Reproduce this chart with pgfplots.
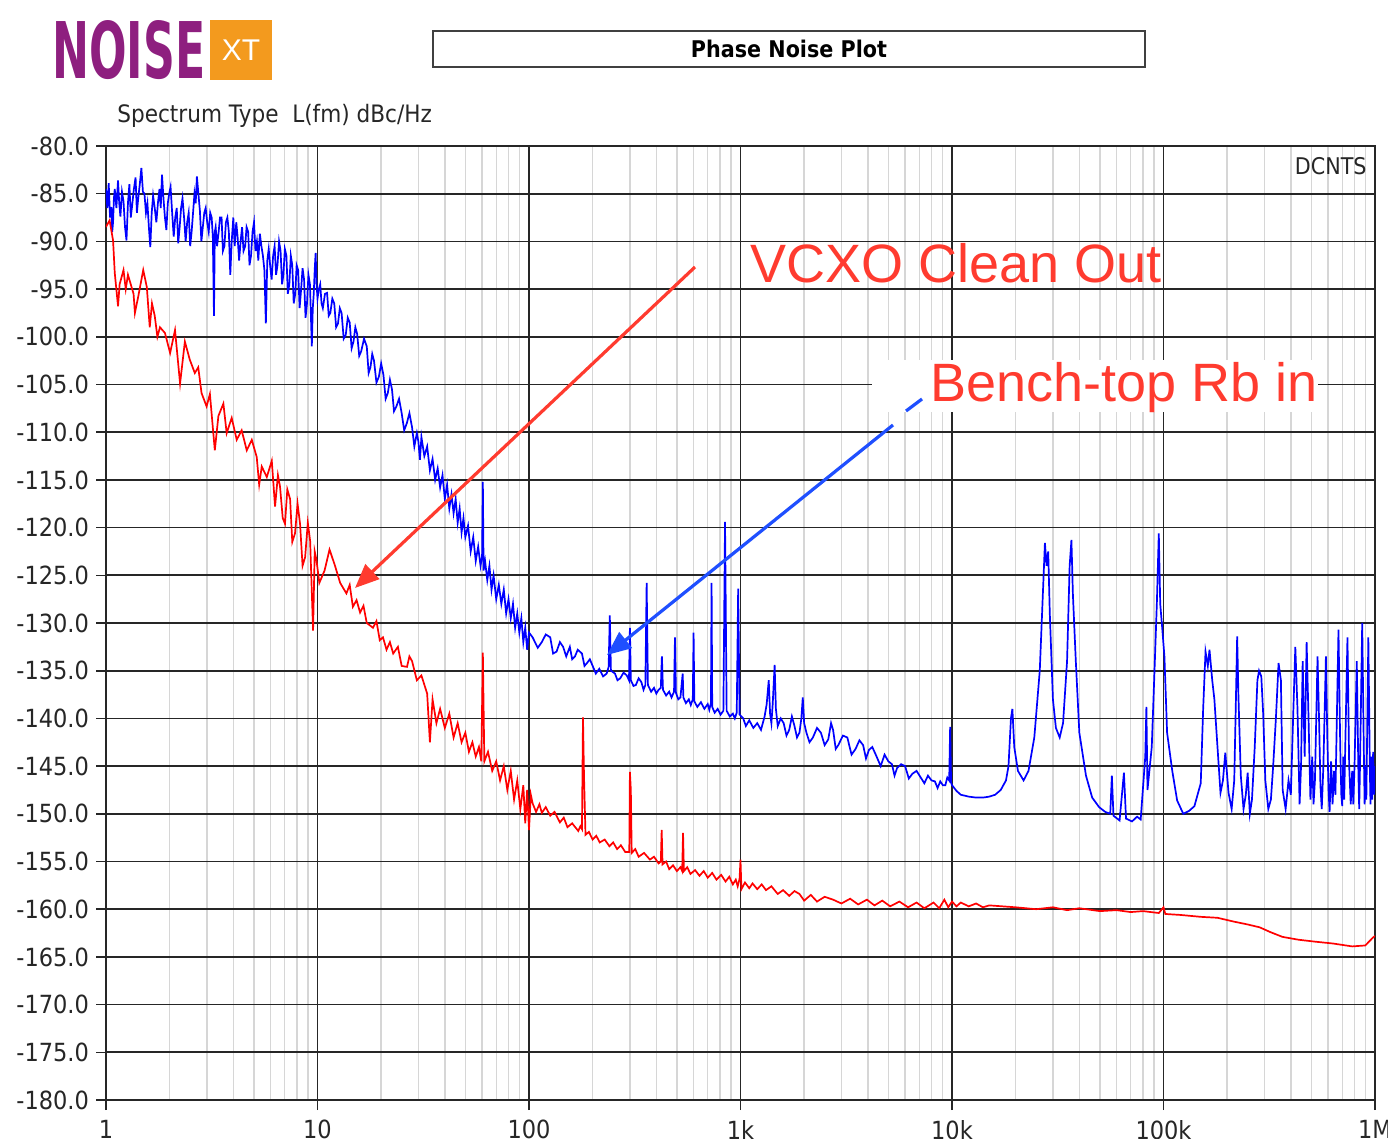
\documentclass[border=0pt]{standalone}
\usepackage{pgfplots}
\pgfplotsset{compat=1.18}
\usetikzlibrary{arrows.meta}
\usepackage{fontspec}
\newfontfamily\dvc{DejaVu Sans}[FakeStretch=0.9]
\newfontfamily\arial{Liberation Sans}
\definecolor{logopurple}{HTML}{8E1F7F}
\definecolor{logoorange}{HTML}{F39A1E}
\definecolor{annred}{HTML}{FF3B2F}
\definecolor{annblue}{HTML}{1F4FFF}
\definecolor{minorgray}{HTML}{D6D6D6}
\begin{document}
\begin{tikzpicture}
\useasboundingbox (0,0) rectangle (694pt,-569.5pt);
\begin{axis}[
  at={(53pt,-550pt)}, anchor=south west,
  scale only axis, width=634.5pt, height=477pt,
  xmode=log, log basis x=10,
  xmin=1, xmax=1000000, ymin=-180, ymax=-80,
  xtick={1,10,100,1000,10000,100000,1000000},
  xticklabels={1,10,100,1k,10k,100k,1M},
  minor xtick={2,3,4,5,6,7,8,9,20,30,40,50,60,70,80,90,200,300,400,500,600,700,800,900,2000,3000,4000,5000,6000,7000,8000,9000,20000,30000,40000,50000,60000,70000,80000,90000,200000,300000,400000,500000,600000,700000,800000,900000},
  ytick={-180,-175,-170,-165,-160,-155,-150,-145,-140,-135,-130,-125,-120,-115,-110,-105,-100,-95,-90,-85,-80},
  yticklabels={-180.0,-175.0,-170.0,-165.0,-160.0,-155.0,-150.0,-145.0,-140.0,-135.0,-130.0,-125.0,-120.0,-115.0,-110.0,-105.0,-100.0,-95.0,-90.0,-85.0,-80.0},
  xmajorgrids, xminorgrids, ymajorgrids,
  major grid style={black!85, line width=0.85pt},
  minor grid style={minorgray, line width=0.7pt},
  axis line style={black!85, line width=0.85pt},
  tick align=outside, xtick pos=left, ytick pos=left,
  major tick length=5pt, minor tick length=0pt,
  tick style={black!85, line width=0.8pt},
  ticklabel style={font=\dvc\fontsize{12.5}{14}\selectfont, text=black!85},
  xticklabel style={yshift=-1.5pt},
]
\addplot[blue, line width=0.85pt] coordinates {
(1,-84.5)(1.015,-86.5)(1.03,-83.9)(1.045,-87.5)(1.06,-86.4)(1.07,-89.0)(1.08,-88.0)(1.09,-85.5)(1.10,-84.5)(1.12,-86.5)(1.14,-83.6)(1.155,-86.0)(1.17,-87.4)(1.19,-84.8)(1.21,-85.8)(1.23,-88.5)(1.25,-89.9)(1.27,-86.0)(1.29,-84.0)(1.31,-87.5)(1.33,-86.2)(1.355,-84.5)(1.38,-83.3)(1.40,-87.0)(1.42,-85.5)(1.445,-84.0)(1.47,-82.3)(1.495,-84.8)(1.52,-85.0)(1.545,-87.0)(1.57,-86.0)(1.595,-88.5)(1.62,-90.6)(1.645,-87.0)(1.67,-85.2)(1.70,-86.5)(1.73,-88.0)(1.76,-86.0)(1.79,-84.5)(1.815,-86.5)(1.84,-83.0)(1.87,-85.5)(1.90,-87.5)(1.93,-88.8)(1.96,-86.0)(1.99,-85.0)(2.02,-84.3)(2.055,-87.0)(2.09,-89.5)(2.125,-87.5)(2.16,-86.5)(2.195,-90.2)(2.23,-88.5)(2.265,-86.5)(2.30,-85.5)(2.34,-87.5)(2.38,-90.0)(2.42,-88.0)(2.46,-87.0)(2.50,-90.5)(2.54,-89.0)(2.58,-87.0)(2.62,-85.0)(2.655,-86.0)(2.69,-83.2)(2.735,-85.0)(2.78,-86.8)(2.825,-90.0)(2.87,-88.5)(2.915,-87.0)(2.96,-86.5)(3.01,-88.0)(3.06,-89.0)(3.11,-87.0)(3.16,-87.5)(3.20,-89.5)(3.24,-97.8)(3.27,-89.0)(3.30,-88.5)
(3.35,-90.5)(3.41,-89.0)(3.46,-87.5)(3.52,-87.5)(3.57,-91.0)(3.63,-90.5)(3.69,-88.0)(3.75,-87.5)(3.81,-89.0)(3.87,-93.5)(3.93,-90.0)(4.00,-87.5)(4.06,-90.5)(4.13,-88.0)(4.19,-89.5)(4.26,-92.0)(4.33,-90.0)(4.40,-88.5)(4.47,-91.0)(4.55,-90.5)(4.62,-88.5)(4.70,-89.0)(4.77,-92.5)(4.85,-91.5)(4.93,-89.0)(5.01,-88.0)(5.09,-91.0)(5.17,-90.0)(5.25,-92.0)(5.34,-89.2)(5.43,-90.5)(5.52,-91.5)(5.61,-93.0)(5.70,-98.6)(5.79,-92.0)(5.88,-90.8)(5.97,-92.5)(6.07,-94.0)(6.17,-91.5)(6.27,-90.5)(6.37,-93.5)(6.47,-92.5)(6.58,-90.0)(6.69,-91.0)(6.80,-94.5)(6.90,-93.5)(7.01,-90.8)(7.13,-91.5)(7.24,-95.5)(7.36,-94.5)(7.48,-91.5)(7.60,-92.5)(7.72,-96.5)(7.85,-95.5)(7.97,-92.5)(8.10,-93.0)(8.23,-97.0)(8.37,-95.0)(8.50,-92.8)(8.64,-94.0)(8.78,-98.0)(8.92,-96.5)(9.06,-93.5)(9.21,-94.5)(9.30,-97.5)(9.40,-101.0)(9.50,-97.0)(9.60,-95.5)(9.70,-93.0)(9.80,-91.2)(9.90,-94.5)(10.0,-96.0)
(10.15,-95.0)(10.3,-94.5)(10.45,-96.5)(10.6,-97.0)(10.85,-95.5)(11.1,-95.4)(11.3,-97.8)(11.5,-97.5)(11.75,-96.0)(12.0,-96.5)(12.25,-99.0)(12.5,-98.6)(12.75,-97.0)(13.0,-97.5)(13.3,-100.2)(13.6,-99.8)(13.9,-98.0)(14.2,-98.5)(14.5,-101.2)(14.8,-100.5)(15.1,-99.0)(15.4,-99.7)(15.75,-102.0)(16.1,-101.5)(16.6,-100.2)(17.1,-101.0)(17.45,-103.8)(17.8,-103.2)(18.15,-101.8)(18.5,-102.5)(19.0,-104.8)(19.5,-104.2)(20.0,-102.8)(20.5,-104.0)(21.0,-106.5)(21.5,-105.9)(22.0,-104.5)(22.5,-105.5)(23.0,-107.8)(23.6,-107.3)(24.3,-106.5)(25.0,-108.0)(25.7,-109.8)(26.5,-109.0)(27.2,-108.0)(28.0,-109.5)(28.7,-111.5)(29.5,-110.1)
(30.0,-111.0)(30.5,-112.9)(31.0,-110.5)(32.0,-112.5)(33.0,-111.5)(34.0,-114.0)(35.0,-112.8)(36.0,-115.0)(37.0,-113.8)(38.0,-115.8)(39.0,-114.5)(40.0,-117.0)(41.0,-115.5)(42.0,-118.0)(43.0,-116.5)(44.0,-118.5)(45.0,-117.0)(46.0,-119.5)(47.0,-118.0)(48.0,-120.5)(49.0,-119.0)(50.0,-121.0)(51.5,-119.8)(53.0,-122.5)(54.5,-121.0)(56.0,-123.5)(57.5,-122.0)(59.0,-124.0)(60.0,-123.0)(60.5,-115.2)(61.0,-124.5)(62.0,-123.5)(63.5,-125.5)(65.0,-124.0)(66.5,-126.5)(68.0,-125.0)(70.0,-127.5)(72.0,-126.0)(74.0,-128.0)(76.0,-126.5)(78.0,-129.0)(80.0,-127.5)(82.0,-129.5)(84.0,-128.0)(86.0,-130.5)(88.0,-129.0)(90.0,-131.0)(92.0,-129.5)(94.0,-132.0)(96.0,-130.5)(98.0,-132.8)(100,-131.0)
(104,-131.5)(110,-132.6)(115,-132.0)(120,-131.2)(126,-131.5)(130,-133.2)(135,-133.0)(140,-132.0)(145,-132.5)(150,-133.5)(156,-132.5)(160,-133.8)(165,-133.5)(170,-132.8)(178,-133.2)(183,-134.5)(188,-134.2)(194,-133.8)(200,-134.5)(207,-135.3)(215,-134.8)(224,-135.6)(233,-135.3)(238,-134.6)(241,-129.2)(244,-135.0)(255,-135.3)(262,-136.0)(270,-135.8)(280,-135.2)(290,-135.5)(297,-136.0)(300,-130.5)(303,-136.0)(312,-136.6)(320,-136.5)(330,-135.8)(340,-136.2)(348,-137.0)(355,-136.5)(360,-125.8)(365,-136.5)(378,-137.2)(390,-136.8)(400,-137.4)(410,-137.0)(420,-136.8)(425,-133.5)(430,-137.0)(445,-137.6)(460,-137.2)(472,-137.8)(485,-137.2)(490,-131.5)(495,-137.3)(508,-138.0)(520,-137.8)(533,-135.3)(537,-137.8)(552,-138.4)(570,-138.0)(582,-138.6)(595,-138.0)(600,-131.0)(605,-138.2)(625,-138.8)(650,-138.3)(675,-139.0)(700,-138.5)(712,-139.1)(725,-138.4)(730,-125.8)(735,-138.8)(755,-139.4)(780,-139.0)(805,-139.6)(830,-139.2)(845,-119.4)(860,-139.2)(890,-139.8)(920,-139.5)(940,-140.0)(960,-139.4)(975,-126.4)(990,-139.6)
(1030,-140.0)(1060,-140.8)(1100,-140.2)(1150,-141.0)(1200,-140.5)(1250,-141.2)(1300,-139.8)(1330,-138.5)(1360,-136.0)(1380,-139.5)(1400,-140.5)(1420,-138.5)(1450,-134.4)(1470,-139.0)(1500,-140.8)(1550,-140.0)(1600,-140.5)(1650,-141.8)(1700,-141.2)(1750,-139.8)(1800,-140.8)(1850,-142.0)(1900,-141.5)(1940,-140.0)(1970,-137.8)(2000,-140.5)(2050,-141.5)(2120,-142.5)(2200,-142.0)(2300,-141.0)(2400,-141.5)(2500,-142.8)(2600,-142.2)(2680,-140.5)(2740,-141.2)(2820,-143.2)(2900,-142.8)(3050,-141.8)(3200,-142.0)(3350,-143.8)(3500,-143.2)(3650,-142.3)(3800,-142.8)(3920,-144.2)(4050,-143.3)(4200,-143.0)(4400,-144.0)(4600,-145.0)(4800,-143.8)(5000,-144.5)(5200,-144.8)(5350,-146.0)(5500,-145.2)(5750,-144.8)(6000,-145.0)(6250,-146.3)(6500,-145.8)(6800,-145.5)(7070,-146.1)(7400,-146.8)(7700,-146.0)(8000,-146.5)(8300,-146.6)(8550,-147.3)(8800,-146.6)(9050,-147.0)(9300,-147.0)(9500,-146.2)(9700,-146.5)(9800,-140.9)(9900,-146.7)(10000,-147.0)
(10500,-147.6)(11000,-148.0)(12000,-148.2)(13000,-148.3)(14000,-148.3)(15000,-148.2)(16000,-148.0)(17000,-147.5)(18000,-146.5)(18500,-145.0)(19000,-140.0)(19300,-139.0)(19700,-143.0)(20500,-145.5)(21800,-146.5)(23000,-145.5)(24500,-142.0)(26000,-135.0)(27000,-126.0)(27500,-121.6)(28000,-124.0)(28500,-122.5)(29000,-129.0)(30000,-138.0)(31000,-141.0)(32300,-142.0)(33500,-140.5)(35000,-134.0)(36000,-124.0)(36700,-121.3)(37300,-127.0)(38500,-134.0)(40000,-141.5)(43000,-146.0)(46000,-148.3)(49600,-149.3)(53000,-149.8)(56000,-150.0)(57000,-146.0)(58000,-150.2)(62000,-150.7)(65000,-145.7)(66500,-150.5)(71000,-150.8)(75000,-150.3)(78000,-150.6)(82000,-144.0)(83000,-138.8)(84000,-147.5)(88000,-143.0)(91000,-134.0)(93000,-128.0)(95000,-120.6)(96500,-128.0)(99000,-131.0)(101000,-133.5)(104000,-141.5)(110000,-145.5)(116000,-148.6)(124000,-150.0)(132000,-149.7)(140000,-149.2)(150000,-146.8)(154000,-139.0)(158000,-133.0)(162000,-134.5)(165000,-132.8)(170000,-136.0)(174000,-138.0)(180000,-143.0)(186000,-147.8)(191000,-146.5)(196000,-143.6)(203000,-147.8)(210000,-149.5)(216000,-146.5)(220000,-138.0)(223000,-131.4)(226000,-137.5)(232000,-146.0)(239000,-149.5)(245000,-148.0)(250000,-145.7)(256000,-150.0)(262000,-148.5)(270000,-143.0)(278000,-136.0)(283000,-135.0)(290000,-135.6)(296000,-139.5)(303000,-146.5)(313000,-149.5)(322000,-148.5)(330000,-145.0)(340000,-140.0)(350000,-134.2)(359000,-136.0)(366000,-147.5)(378000,-149.5)(390000,-146.5)(400000,-148.0)(410000,-140.0)(420000,-132.5)(430000,-139.0)(440000,-149.0)(447000,-145.0)(455000,-134.0)(465000,-144.0)(475000,-132.0)(485000,-140.0)(495000,-148.5)(505000,-144.0)(512000,-149.0)(520000,-146.5)(535000,-133.5)(545000,-141.0)(552000,-147.0)(560000,-149.5)(570000,-145.0)(586000,-133.5)(595000,-142.0)(603000,-147.5)(610000,-149.8)(620000,-144.5)(630000,-149.0)(640000,-145.5)(650000,-148.0)(672000,-130.7)(685000,-143.0)(693000,-148.0)(700000,-149.2)(708000,-144.0)(715000,-148.5)(741000,-131.5)(755000,-145.0)(768000,-149.0)(780000,-145.5)(790000,-149.0)(800000,-145.0)(820000,-134.0)(835000,-146.0)(842000,-149.5)(850000,-144.5)(870000,-130.0)(885000,-143.0)(893000,-149.0)(900000,-145.0)(910000,-148.5)(930000,-131.5)(945000,-145.0)(952000,-149.0)(960000,-144.0)(970000,-148.5)(980000,-143.5)(990000,-148.0)(1000000,-145.0)
};
\addplot[red, line width=0.85pt] coordinates {
(1.00,-88.5)(1.01,-88.3)(1.04,-87.8)(1.08,-89.9)(1.10,-93.3)(1.14,-96.8)(1.16,-94.5)(1.21,-93.0)(1.24,-95.0)(1.27,-93.5)(1.35,-95.5)(1.37,-97.5)(1.42,-95.8)(1.50,-93.0)(1.56,-94.8)(1.61,-99.0)(1.65,-96.5)(1.70,-97.8)(1.75,-100.0)(1.80,-99.0)(1.90,-99.6)(2.01,-101.7)(2.12,-99.3)(2.24,-104.9)(2.36,-100.5)(2.49,-102.4)(2.63,-103.8)(2.73,-103.2)(2.83,-105.9)(2.99,-107.3)(3.10,-106.0)(3.27,-111.9)(3.40,-108.3)(3.59,-107.0)(3.72,-110.1)(3.93,-108.5)(4.15,-110.8)(4.38,-109.8)(4.63,-111.9)(4.89,-110.8)(5.16,-112.6)(5.30,-115.5)(5.45,-113.6)(5.76,-114.7)(6.08,-113.0)(6.30,-117.8)(6.50,-114.5)(6.65,-115.7)(6.85,-119.0)(7.02,-119.6)(7.20,-116.0)(7.42,-117.0)(7.60,-121.5)(7.83,-120.6)(8.05,-117.5)(8.27,-119.6)(8.50,-124.0)(8.74,-123.1)(9.00,-119.5)(9.23,-121.4)(9.53,-130.8)(9.70,-122.5)(9.89,-123.4)(10.2,-125.8)(10.8,-124.5)(11.4,-122.3)(12.1,-124.0)(12.8,-125.8)(13.7,-126.9)(14.2,-126.0)(14.7,-128.3)(15.3,-127.6)(15.9,-128.9)(16.5,-128.2)(17.1,-130.0)(18.3,-130.5)(19.0,-129.8)(19.7,-131.8)(20.4,-131.5)(21.2,-132.8)(22.0,-132.0)(22.8,-133.2)(24.0,-132.5)(25.0,-134.5)(26.5,-134.6)(27.2,-133.5)(28.0,-134.0)(29.5,-136.0)(31.0,-135.5)(33.0,-137.4)(34.0,-142.5)(35.0,-138.0)(36.5,-140.5)(38.0,-139.0)(40.0,-141.0)(42.0,-139.5)(44.0,-142.0)(46.0,-140.5)(48.0,-142.5)(50.0,-141.5)(52.0,-143.5)(54.0,-142.5)(56.0,-144.0)(58.0,-143.0)(59.5,-144.5)(60.5,-133.1)(61.5,-144.5)(64.0,-143.5)(67.0,-145.5)(70.0,-144.5)(73.0,-146.5)(76.0,-145.0)(79.0,-147.5)(82.0,-145.5)(85.0,-148.5)(88.0,-146.5)(91.0,-149.5)(94.0,-147.0)(96.0,-151.0)(98.0,-147.5)(100,-151.7)(102,-148.0)
(104,-148.9)(108,-149.8)(112,-149.0)(115,-149.9)(120,-149.3)(126,-150.2)(132,-149.8)(140,-150.9)(146,-150.4)(152,-151.4)(160,-151.0)(171,-151.8)(175,-151.3)(178,-151.6)(180,-139.9)(182,-146.0)(185,-152.2)(192,-151.9)(200,-152.7)(208,-152.3)(216,-153.0)(228,-152.7)(240,-153.4)(250,-153.0)(261,-153.7)(272,-153.3)(285,-154.0)(298,-154.0)(300,-145.6)(303,-147.5)(306,-154.1)(318,-153.7)(330,-154.5)(350,-154.1)(373,-154.8)(390,-154.5)(410,-155.2)(420,-155.0)(424,-151.7)(428,-155.3)(445,-155.0)(460,-155.8)(480,-155.4)(500,-156.0)(520,-155.6)(530,-156.0)(535,-152.0)(540,-156.0)(560,-155.6)(580,-156.3)(610,-155.9)(640,-156.5)(670,-156.0)(700,-156.7)(735,-156.2)(770,-156.9)(810,-156.4)(850,-157.1)(885,-156.6)(920,-157.4)(950,-156.9)(970,-157.6)(990,-156.8)(1000,-154.8)(1010,-157.9)
(1050,-157.2)(1100,-157.8)(1140,-157.3)(1200,-157.9)(1260,-157.4)(1320,-158.0)(1400,-157.6)(1500,-158.4)(1590,-158.0)(1700,-158.6)(1800,-158.1)(1900,-158.4)(2000,-159.1)(2150,-158.5)(2300,-159.2)(2500,-158.7)(2740,-159.0)(3000,-159.4)(3300,-158.9)(3600,-159.5)(3960,-159.0)(4300,-159.6)(4680,-159.1)(5100,-159.7)(5640,-159.2)(6200,-159.8)(6800,-159.3)(7400,-159.9)(8180,-159.3)(8700,-159.9)(9200,-159.0)(9600,-159.8)(10000,-159.2)(10500,-159.7)(11000,-159.3)(12000,-159.7)(13000,-159.4)(14000,-159.8)(15000,-159.6)(20000,-159.8)(25000,-160.0)(30000,-159.8)(35000,-160.1)(40000,-159.9)(50000,-160.2)(60000,-160.1)(70000,-160.3)(80000,-160.2)(95000,-160.4)(100000,-159.8)(102000,-160.5)(120000,-160.6)(150000,-160.8)(180000,-160.9)(215000,-161.3)(250000,-161.6)(285000,-161.9)(320000,-162.4)(365000,-162.9)(435000,-163.2)(520000,-163.4)(635000,-163.6)(780000,-163.9)(900000,-163.8)(975000,-163.0)(1000000,-162.8)
};
\end{axis}
\begin{scope}[x=0.5pt,y=-0.5pt]
% logo
\node[anchor=south west, inner sep=0, text=logopurple] at (52,80) {\resizebox{76.5pt}{29pt}{\dvc\bfseries NOISE}};
\fill[logoorange] (210,20) rectangle (272,80);
\node[text=white, inner sep=0] at (241,50) {\arial\fontsize{15}{15}\selectfont XT};
% title box
\draw[black!75, line width=1.3pt] (433,31) rectangle (1145,67);
\node[inner sep=0] at (789,49) {\dvc\bfseries\fontsize{11.5}{13}\selectfont Phase Noise Plot};
\node[anchor=west, inner sep=0, text=black!85] at (117,116) {\dvc\fontsize{12}{14}\selectfont Spectrum Type\ \ L(fm) dBc/Hz};
\node[anchor=east, inner sep=0, text=black!85] at (1367,166) {\dvc\fontsize{11.5}{13}\selectfont DCNTS};
% annotations
\draw[annred, line width=1.6pt, -{Triangle[length=12pt,width=10pt]}] (695,267) -- (355,588);
\node[anchor=base west, inner sep=0, text=annred] at (750,283) {\arial\fontsize{27}{30}\selectfont VCXO Clean Out};
\fill[white] (872,360) rectangle (1318,412);
\draw[annblue, line width=1.6pt, -{Triangle[length=12pt,width=10pt]}] (893,425) -- (607,655);
\draw[annblue, line width=1.6pt] (906,411) -- (922,399);
\node[anchor=base west, inner sep=0, text=annred] at (930,401) {\arial\fontsize{27}{30}\selectfont Bench-top Rb in};
\end{scope}
\end{tikzpicture}
\end{document}
